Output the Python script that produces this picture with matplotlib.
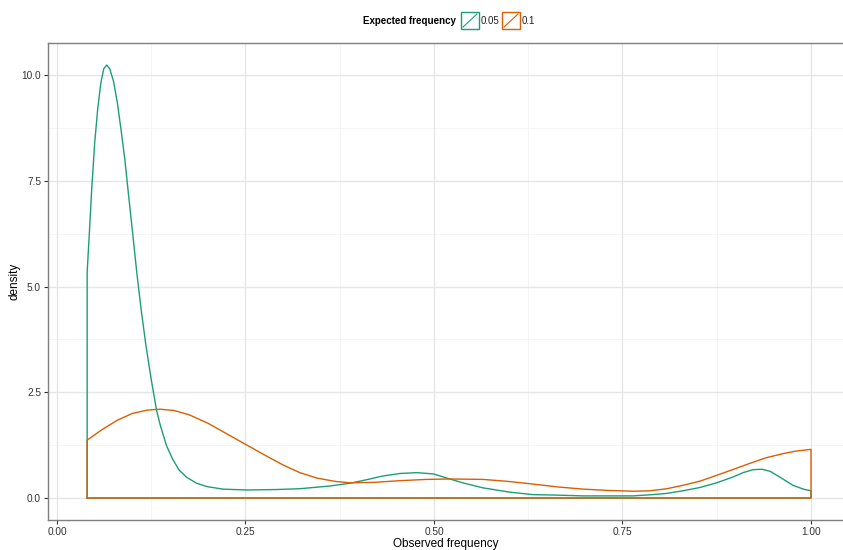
import matplotlib
matplotlib.use('Agg')
import matplotlib.pyplot as plt
from matplotlib.patches import Rectangle
from matplotlib.lines import Line2D

plt.rcParams['font.family'] = ['Liberation Sans', 'DejaVu Sans']

# density of observed frequency
x_005 = [0.040, 0.043, 0.046, 0.050, 0.054, 0.058, 0.062, 0.066, 0.070, 0.075,
         0.080, 0.085, 0.090, 0.095, 0.101, 0.106, 0.112, 0.118, 0.125, 0.132,
         0.137, 0.145, 0.153, 0.162, 0.172, 0.185, 0.199, 0.220, 0.252, 0.290,
         0.322, 0.360, 0.389, 0.410, 0.432, 0.455, 0.477, 0.499, 0.521, 0.540,
         0.565, 0.600, 0.631, 0.660, 0.698, 0.730, 0.764, 0.790, 0.809, 0.830,
         0.853, 0.875, 0.897, 0.910, 0.923, 0.935, 0.946, 0.960, 0.976, 0.990,
         1.000]
y_005 = [5.34, 6.30, 7.30, 8.40, 9.20, 9.80, 10.15, 10.24, 10.15, 9.85,
         9.35, 8.70, 8.00, 7.15, 6.15, 5.30, 4.40, 3.60, 2.80, 2.08,
         1.72, 1.25, 0.93, 0.66, 0.49, 0.35, 0.27, 0.21, 0.19, 0.20,
         0.22, 0.28, 0.35, 0.43, 0.52, 0.58, 0.60, 0.57, 0.45, 0.35,
         0.24, 0.14, 0.08, 0.07, 0.05, 0.05, 0.05, 0.08, 0.11, 0.17,
         0.25, 0.36, 0.50, 0.60, 0.67, 0.68, 0.63, 0.48, 0.30, 0.21,
         0.17]

x_01 = [0.040, 0.060, 0.080, 0.100, 0.120, 0.137, 0.155, 0.175, 0.200, 0.225,
        0.252, 0.280, 0.300, 0.322, 0.345, 0.370, 0.389, 0.420, 0.455, 0.490,
        0.521, 0.565, 0.600, 0.631, 0.665, 0.698, 0.730, 0.764, 0.786, 0.809,
        0.830, 0.853, 0.885, 0.919, 0.940, 0.963, 0.980, 1.000]
y_01 = [1.37, 1.62, 1.84, 2.00, 2.08, 2.10, 2.07, 1.97, 1.77, 1.52,
        1.25, 0.97, 0.78, 0.60, 0.47, 0.39, 0.36, 0.37, 0.41, 0.44,
        0.45, 0.44, 0.39, 0.33, 0.26, 0.21, 0.18, 0.16, 0.17, 0.22,
        0.30, 0.40, 0.60, 0.82, 0.95, 1.05, 1.11, 1.15]

series = [('0.05', x_005, y_005, '#1B9E77'), ('0.1', x_01, y_01, '#D95F02')]
xticks = [0.0, 0.25, 0.5, 0.75, 1.0]
yticks = [0.0, 2.5, 5.0, 7.5, 10.0]

W, H = 843, 550
fig = plt.figure(figsize=(W / 100, H / 100), dpi=100)
ax = fig.add_axes([48 / W, 30 / H, (W - 48) / W, (520 - 43) / H])

# 0.00 sits at px 57, 1.00 at px 811
ax.set_xlim(-9 / 754, (W - 57) / 754)
ax.set_ylim(-0.52, 10.76)

# ggplot-ish grid
for v in [0.125, 0.375, 0.625, 0.875]:
    ax.axvline(v, color='#F4F4F4', lw=0.6, zorder=0)
for v in [1.25, 3.75, 6.25, 8.75]:
    ax.axhline(v, color='#F4F4F4', lw=0.6, zorder=0)
for v in xticks:
    ax.axvline(v, color='#E6E6E6', lw=1.0, zorder=0)
for v in yticks:
    ax.axhline(v, color='#E6E6E6', lw=1.0, zorder=0)

for name, xs, ys, col in series:
    px = [xs[0]] + xs + [xs[-1], xs[0]]
    py = [0.0] + ys + [0.0, 0.0]
    ax.plot(px, py, color=col, lw=1.0, solid_joinstyle='round')

ax.set_xticks(xticks)
ax.set_xticklabels(['0.00', '0.25', '0.50', '0.75', '1.00'])
ax.set_yticks(yticks)
ax.set_yticklabels(['0.0', '2.5', '5.0', '7.5', '10.0'])
ax.tick_params(axis='both', colors='#333333', labelsize=7.3, length=3, width=0.8,
               labelcolor='#333333', pad=2)
for s in ['left', 'bottom', 'top']:
    ax.spines[s].set_color('#7F7F7F')
    ax.spines[s].set_linewidth(1.0)
ax.spines['right'].set_visible(False)

ax.set_xlabel('Observed frequency', fontsize=8.5, labelpad=1)
ax.set_ylabel('density', fontsize=8.5, labelpad=1)


def fx(p):
    return p / W


def fy(p):
    return 1 - p / H


# legend at top
fig.text(fx(456), fy(20.5), 'Expected frequency', fontsize=7, fontweight='bold',
         ha='right', va='center')
key_left = [461, 502]
for (name, xs, ys, col), kx in zip(series, key_left):
    fig.patches.append(Rectangle((fx(kx), fy(29)), fx(18), 17 / H, fill=False,
                                 edgecolor=col, lw=1.0, transform=fig.transFigure))
    fig.lines.append(Line2D([fx(kx + 2), fx(kx + 16)], [fy(27), fy(14)], color=col,
                            lw=0.8, transform=fig.transFigure))
    fig.text(fx(kx + 20), fy(20.5), name, fontsize=7, ha='left', va='center',
             color='#222222')

fig.savefig('out.png', dpi=100)
